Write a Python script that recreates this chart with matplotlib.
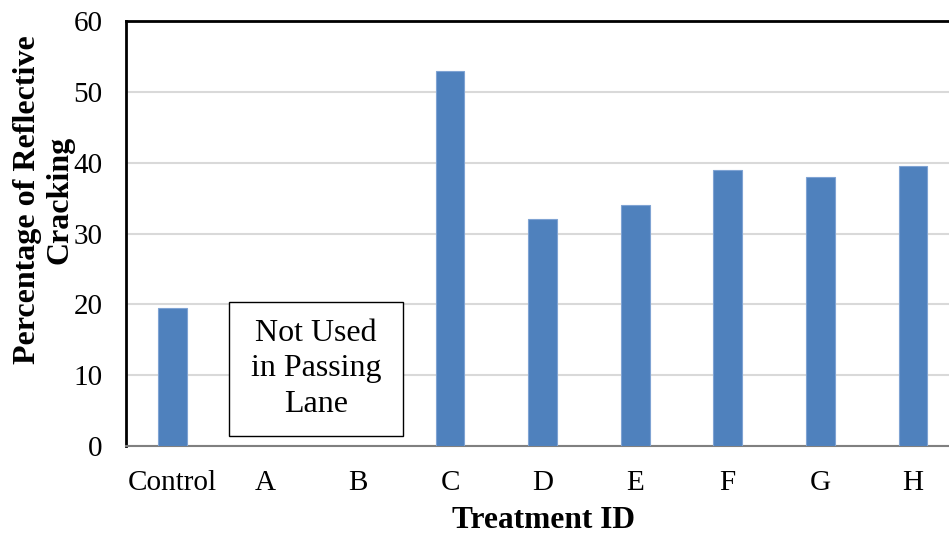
import matplotlib
matplotlib.use("Agg")
import matplotlib.pyplot as plt
from matplotlib.patches import Rectangle

categories = ["Control", "A", "B", "C", "D", "E", "F", "G", "H"]
cracking_pct = [19.5, None, None, 53, 32, 34, 39, 38, 39.5]
y_ticks = [0, 10, 20, 30, 40, 50, 60]

plt.rcParams["font.family"] = ["Liberation Serif", "DejaVu Serif"]

W, H = 949, 538
fig = plt.figure(figsize=(W / 100, H / 100), dpi=100)
ax = fig.add_axes([126 / W, 1 - 446 / H, (W - 126) / W, (446 - 21) / H])

xs = [i for i, v in enumerate(cracking_pct) if v is not None]
vals = [v for v in cracking_pct if v is not None]
ax.bar(xs, vals, width=0.31, color="#4F81BD", edgecolor="#7FA3D3",
       linewidth=0.8, zorder=3)

ax.set_xlim(-0.5, 8.39)
ax.set_ylim(0, 60)
ax.set_yticks(y_ticks)
ax.set_xticks(range(len(categories)))
ax.set_xticklabels(categories)
ax.tick_params(axis="both", length=0, labelsize=21)
ax.tick_params(axis="x", pad=17)
ax.tick_params(axis="y", pad=17)

ax.grid(axis="y", color="#D9D9D9", linewidth=1.5, zorder=0)
ax.spines["right"].set_visible(False)
ax.spines["top"].set_color("black")
ax.spines["top"].set_linewidth(2)
ax.spines["left"].set_color("black")
ax.spines["left"].set_linewidth(2)
ax.spines["bottom"].set_color("#808080")
ax.spines["bottom"].set_linewidth(1.5)

# note for the treatments without a passing-lane section
ax.add_patch(Rectangle((0.615, 1.4), 1.88, 18.95, facecolor="white",
                       edgecolor="black", linewidth=1, zorder=4))
ax.text(1.555, 10.9, "Not Used\nin Passing\nLane", ha="center", va="center",
        fontsize=23, linespacing=1.3, zorder=5)

fig.text(544 / W, 1 - 521 / H, "Treatment ID", ha="center", va="center",
         fontsize=22.6, fontweight="bold")
fig.text(44 / W, 1 - 200 / H, "Percentage of Reflective\nCracking",
         ha="center", va="center", rotation=90, fontsize=23,
         fontweight="bold", multialignment="center", linespacing=1.18)

fig.savefig("out.png", dpi=100)
